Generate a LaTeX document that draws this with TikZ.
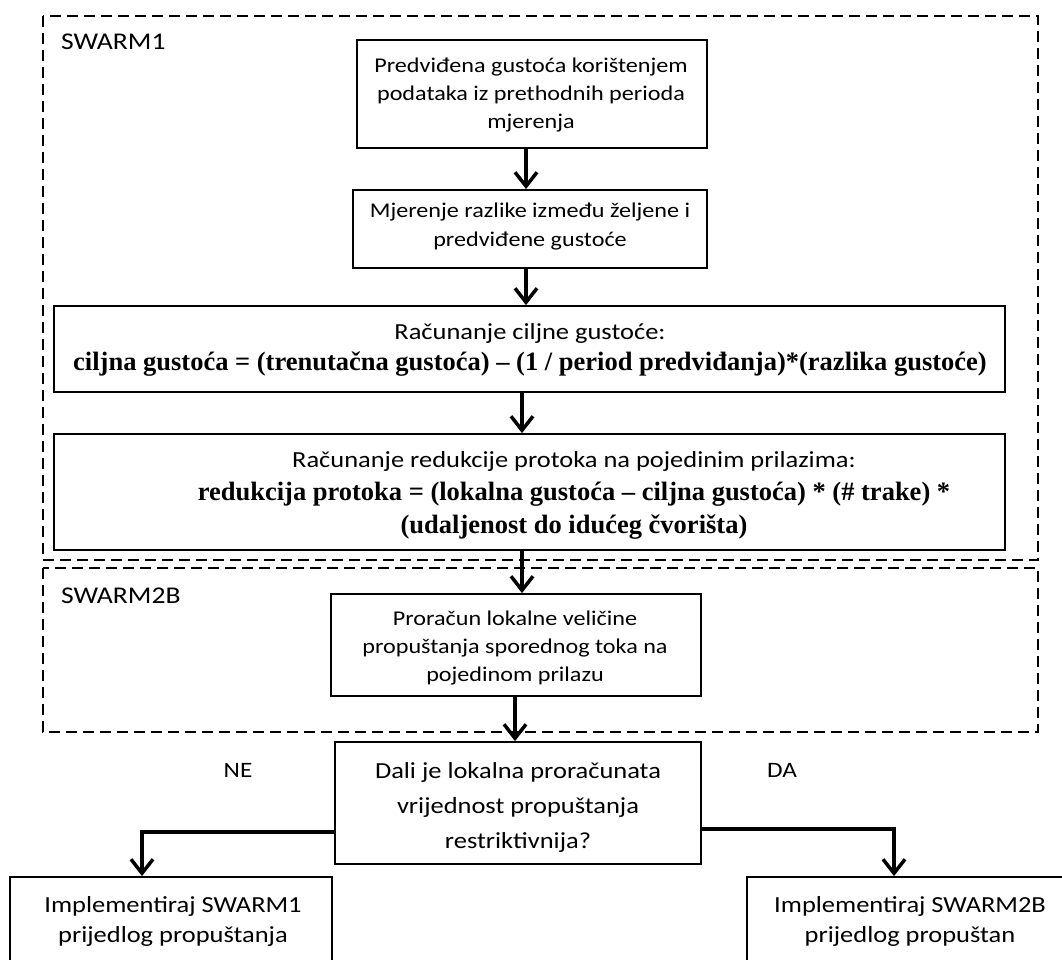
\documentclass[tikz,border=0pt]{standalone}
\usepackage{fontspec}
\setmainfont{Carlito}[FakeStretch=1.15]
\newfontfamily\serifb{Liberation Serif}
\usetikzlibrary{arrows.meta}
\begin{document}
\begin{tikzpicture}[x=1pt,y=-1pt,
  box/.style={draw, line width=1.8pt, inner sep=0pt, align=center},
  txt/.style={align=center, inner sep=0pt, font=\fontsize{21}{28}\selectfont},
  conn/.style={line width=3.5pt, -{Straight Barb[length=14pt,width=22pt,line width=3.5pt]}},
  grp/.style={draw, line width=2.2pt, dash pattern=on 11pt off 6pt},
  lbl/.style={anchor=west, inner sep=0pt, font=\fontsize{24}{28}\selectfont}]
\useasboundingbox (0,0) rectangle (1062,960);
\clip (0,0) rectangle (1062,960);
% group frames
\draw[grp] (43,16) rectangle (1038,560);
\draw[grp] (43,568) rectangle (1038,732);
\node[lbl] (l1) at (61,42) {SWARM1};
\node[lbl] (l2) at (61,596) {SWARM2B};
% boxes
\node[box, minimum width=350pt, minimum height=108pt] (b1) at (532,94) {};
\node[txt] (t1) at (531,95) {Predviđena gustoća korištenjem\\podataka iz prethodnih perioda\\mjerenja};
\node[box, minimum width=354pt, minimum height=78pt] (b2) at (530,229) {};
\node[txt, font=\fontsize{21}{29}\selectfont] (t2) at (530,227) {Mjerenje razlike između željene i\\predviđene gustoće};
\node[box, minimum width=951pt, minimum height=86pt] (b3) at (529.5,349) {};
\node[txt, font=\fontsize{23}{31}\selectfont] (t3) at (530,350) {Računanje ciljne gustoće:\\{\serifb\bfseries\fontsize{26.5}{31}\selectfont ciljna gustoća = (trenutačna gustoća) – (1 / period predviđanja)*(razlika gustoće)}};
\node[box, minimum width=951pt, minimum height=116pt] (b4) at (529.5,492) {};
\node[txt, font=\fontsize{23}{33}\selectfont] (t4) at (574,495) {Računanje redukcije protoka na pojedinim prilazima:\\{\serifb\bfseries\fontsize{26.5}{33}\selectfont redukcija protoka = (lokalna gustoća – ciljna gustoća) * (\# trake) *}\\{\serifb\bfseries\fontsize{26.5}{31}\selectfont (udaljenost do idućeg čvorišta)}};
\node[box, minimum width=370pt, minimum height=102pt] (b5) at (516,645) {};
\node[txt] (t5) at (515,648) {Proračun lokalne veličine\\propuštanja sporednog toka na\\pojedinom prilazu};
\node[box, minimum width=366pt, minimum height=122pt] (b6) at (518,803) {};
\node[txt, font=\fontsize{23}{35}\selectfont] (t6) at (518,807) {Dali je lokalna proračunata\\vrijednost propuštanja\\restriktivnija?};
\node[box, minimum width=322pt, minimum height=110pt] (b7) at (171,932) {};
\node[txt, font=\fontsize{23}{30}\selectfont] (t7) at (173,921) {Implementiraj SWARM1\\prijedlog propuštanja};
\node[box, minimum width=326pt, minimum height=110pt] (b8) at (910,932) {};
\node[txt, font=\fontsize{23}{30}\selectfont] (t8) at (910,921) {Implementiraj SWARM2B\\prijedlog propuštan};
% branch labels
\node[txt, font=\fontsize{22}{26}\selectfont] (ne) at (238,770) {NE};
\node[txt, font=\fontsize{22}{26}\selectfont] (da) at (782,770) {DA};
% connectors
\coordinate (xa) at (526,0);
\coordinate (xb) at (522,0);
\coordinate (xc) at (515,0);
\coordinate (lj) at (142,832);
\coordinate (rj) at (894,829);
\draw[conn] (xa |- b1.south) -- (xa |- b2.north);
\draw[conn] (xa |- b2.south) -- (xa |- b3.north);
\draw[conn] (xb |- b3.south) -- (xb |- b4.north);
\draw[conn] (xb |- b4.south) -- (xb |- b5.north);
\draw[conn] (xc |- b5.south) -- (xc |- b6.north);
\draw[conn] (lj -| b6.west) -- (lj) -- (lj |- b7.north);
\draw[conn] (rj -| b6.east) -- (rj) -- (rj |- b8.north);
\end{tikzpicture}
\end{document}
